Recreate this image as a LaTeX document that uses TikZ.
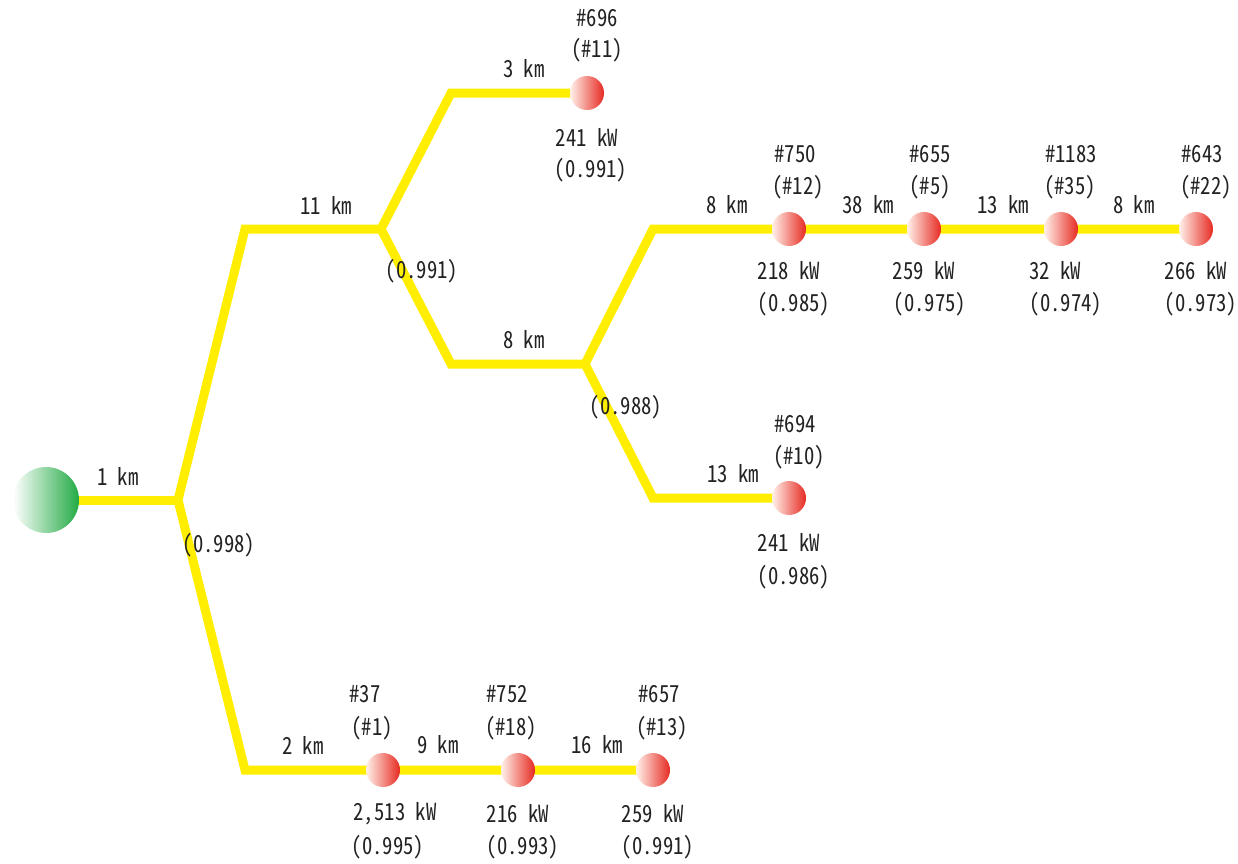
\documentclass[tikz,border=0pt]{standalone}
\usepackage{fontspec}
\setmainfont{Noto Sans Mono CJK JP}[FakeStretch=0.88]
\definecolor{wire}{HTML}{FFEE00}
\definecolor{ballred}{HTML}{E62A22}
\definecolor{ballpale}{HTML}{FFF2EA}
\definecolor{ballgreen}{HTML}{22AA44}
\definecolor{txt}{HTML}{222222}
\begin{document}
\begin{tikzpicture}[x=1pt,y=-1pt,
  wireline/.style={draw=wire,line width=9pt,line join=miter},
  load/.style={circle,minimum size=34pt,inner sep=0pt,left color=ballpale,right color=ballred,shading angle=90},
  src/.style={circle,minimum size=66pt,inner sep=0pt,left color=white,right color=ballgreen},
  lbl/.style={font=\fontsize{23.5}{23.5}\selectfont,text=txt,inner sep=0pt},
  jn/.style={coordinate}]
\useasboundingbox (0,0) rectangle (1238,863);
% junctions / bends
\coordinate (j0) at (178,500);
\coordinate (b1) at (245,229);
\coordinate (j1) at (381,229);
\coordinate (b2) at (451,93);
\coordinate (b3) at (451,364);
\coordinate (j2) at (585,364);
\coordinate (b4) at (653,229);
\coordinate (b5) at (653,498);
\coordinate (b6) at (245,770);
% balls positions
\coordinate (p696) at (587,93);
\coordinate (p750) at (789,229);
\coordinate (p655) at (924,229);
\coordinate (p1183) at (1061,229);
\coordinate (p643) at (1196,229);
\coordinate (p694) at (789,498);
\coordinate (p37) at (383,770);
\coordinate (p752) at (518,770);
\coordinate (p657) at (653,770);
\coordinate (ps) at (46,500);
% wires
\draw[wireline] (ps) -- (j0);
\draw[wireline] (j0) -- (b1) -- (j1) -- (b2) -- (p696);
\draw[wireline] (j1) -- (b3) -- (j2) -- (b4) -- (p750) -- (p655) -- (p1183) -- (p643);
\draw[wireline] (j2) -- (b5) -- (p694);
\draw[wireline] (j0) -- (b6) -- (p37) -- (p752) -- (p657);
% nodes
\node[src] (s) at (ps) {};
\node[load] (n696) at (p696) {};
\node[load] (n750) at (p750) {};
\node[load] (n655) at (p655) {};
\node[load] (n1183) at (p1183) {};
\node[load] (n643) at (p643) {};
\node[load] (n694) at (p694) {};
\node[load] (n37) at (p37) {};
\node[load] (n752) at (p752) {};
\node[load] (n657) at (p657) {};
% labels
\node[lbl] (l1) at (118,476) {1 km};
\node[lbl] (l2) at (219,545) {(0.998)};
\node[lbl] (l3) at (326,205) {11 km};
\node[lbl] (l4) at (422,271) {(0.991)};
\node[lbl] (l5) at (524,69) {3 km};
\node[lbl] (l6) at (597,18) {\#696};
\node[lbl] (l7) at (597,50) {(\#11)};
\node[lbl] (l8) at (587,137) {241 kW};
\node[lbl] (l9) at (591,170) {(0.991)};
\node[lbl] (l10) at (524,340) {8 km};
\node[lbl] (l11) at (626,407) {(0.988)};
\node[lbl] (l12) at (727,205) {8 km};
\node[lbl] (l13) at (795,154) {\#750};
\node[lbl] (l14) at (798,187) {(\#12)};
\node[lbl] (l15) at (789,271) {218 kW};
\node[lbl] (l16) at (794,304) {(0.985)};
\node[lbl] (l17) at (868,205) {38 km};
\node[lbl] (l18) at (930,154) {\#655};
\node[lbl] (l19) at (930,187) {(\#5)};
\node[lbl] (l20) at (924,271) {259 kW};
\node[lbl] (l21) at (930,304) {(0.975)};
\node[lbl] (l22) at (1003,205) {13 km};
\node[lbl] (l23) at (1071,154) {\#1183};
\node[lbl] (l24) at (1070,187) {(\#35)};
\node[lbl] (l25) at (1055,271) {32 kW};
\node[lbl] (l26) at (1066,304) {(0.974)};
\node[lbl] (l27) at (1134,205) {8 km};
\node[lbl] (l28) at (1202,154) {\#643};
\node[lbl] (l29) at (1206,187) {(\#22)};
\node[lbl] (l30) at (1196,271) {266 kW};
\node[lbl] (l31) at (1201,304) {(0.973)};
\node[lbl] (l32) at (795,424) {\#694};
\node[lbl] (l33) at (799,457) {(\#10)};
\node[lbl] (l34) at (733,474) {13 km};
\node[lbl] (l35) at (789,542) {241 kW};
\node[lbl] (l36) at (794,577) {(0.986)};
\node[lbl] (l37) at (303,745) {2 km};
\node[lbl] (l38) at (365,694) {\#37};
\node[lbl] (l39) at (372,728) {(\#1)};
\node[lbl] (l40) at (438,745) {9 km};
\node[lbl] (l41) at (507,694) {\#752};
\node[lbl] (l42) at (511,728) {(\#18)};
\node[lbl] (l43) at (597,745) {16 km};
\node[lbl] (l44) at (659,694) {\#657};
\node[lbl] (l45) at (662,728) {(\#13)};
\node[lbl] (l46) at (395,814) {2,513 kW};
\node[lbl] (l47) at (388,847) {(0.995)};
\node[lbl] (l48) at (518,814) {216 kW};
\node[lbl] (l49) at (523,847) {(0.993)};
\node[lbl] (l50) at (653,814) {259 kW};
\node[lbl] (l51) at (658,847) {(0.991)};
\end{tikzpicture}
\end{document}
